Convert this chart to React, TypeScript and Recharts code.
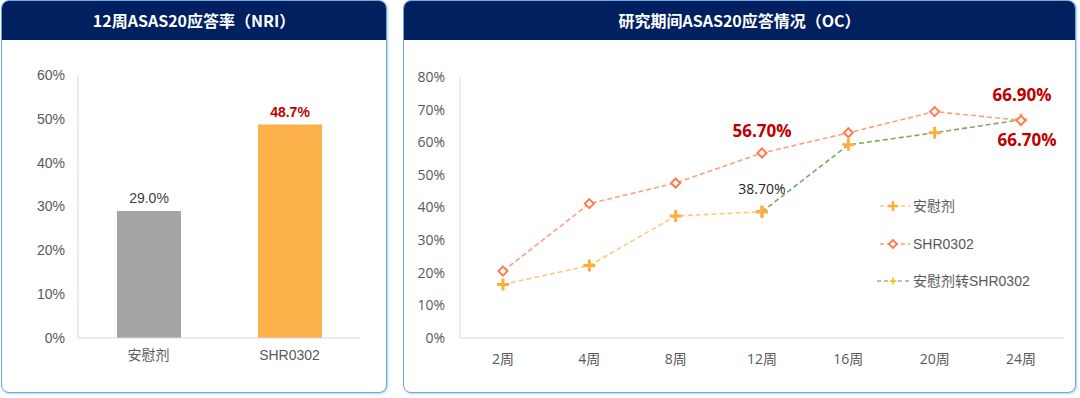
import React from 'react';
import { BarChart, Bar, XAxis, YAxis, Cell, LabelList, LineChart, Line, Legend } from 'recharts';

const barCategories = ['安慰剂', 'SHR0302'];
const barValues = [29.0, 48.7];
const barTicks = [0, 10, 20, 30, 40, 50, 60];

const weeks = ['2周', '4周', '8周', '12周', '16周', '20周', '24周'];
const placeboValues: (number | null)[] = [16.4, 22.2, 37.4, 38.7, null, null, null];
const shrValues: (number | null)[] = [20.5, 41.2, 47.5, 56.7, 62.9, 69.4, 66.7];
const switchValues: (number | null)[] = [null, null, null, 38.7, 59.2, 62.9, 66.9];
const lineTicks = [0, 10, 20, 30, 40, 50, 60, 70, 80];
const seriesNames = ['安慰剂', 'SHR0302', '安慰剂转SHR0302'];
const leftTitle = '12周ASAS20应答率（NRI）';
const rightTitle = '研究期间ASAS20应答情况（OC）';

const barData = barCategories.map((c, i) => ({ name: c, value: barValues[i] }));
const lineData = weeks.map((w, i) => ({
  week: w,
  placebo: placeboValues[i],
  shr: shrValues[i],
  sw: switchValues[i],
}));

const barColors = ['#A5A5A5', '#FDB14B'];
const barLabelStyles = [
  { fill: '#404040', fontWeight: 400, fontSize: 14 },
  { fill: '#C00000', fontWeight: 700, fontSize: 14 },
];

const LATIN = '"Liberation Sans", Arial, "Noto Sans CJK SC", sans-serif';
const OPEN = '"Open Sans", "Noto Sans CJK SC", sans-serif';
const CJK = '"Noto Sans CJK SC", sans-serif';

const PLUS = '#FFAD3B';
const DIAMOND = '#FF7A4D';

const plusDot = (name: string) => (props: any) => {
  const { cx, cy, index } = props;
  if (cx == null || cy == null || props.value == null) return <g key={`${name}-${index}`} />;
  return (
    <path
      key={`${name}-${index}`}
      d={`M${cx - 6},${cy}H${cx + 6}M${cx},${cy - 6}V${cy + 6}`}
      stroke={PLUS}
      strokeWidth={3}
      fill="none"
    />
  );
};

const diamondDot = (props: any) => {
  const { cx, cy, index } = props;
  if (cx == null || cy == null) return <g key={`d-${index}`} />;
  const r = 4.5;
  return (
    <path
      key={`d-${index}`}
      d={`M${cx},${cy - r}L${cx + r},${cy}L${cx},${cy + r}L${cx - r},${cy}Z`}
      stroke={DIAMOND}
      strokeWidth={2}
      fill="#fff"
    />
  );
};

type LabelSpec = { dx: number; dy: number; fill: string; bold: boolean; size: number };

const lineLabel = (specs: Record<number, LabelSpec>) => (props: any) => {
  const { x, y, value, index } = props;
  const s = specs[index];
  if (!s || value == null) return null;
  return (
    <text
      x={x + s.dx}
      y={y + s.dy}
      textAnchor="middle"
      fill={s.fill}
      fontWeight={s.bold ? 700 : 400}
      fontSize={s.size}
      fontFamily={OPEN}
    >
      {`${Number(value).toFixed(2)}%`}
    </text>
  );
};

const placeboLabels: Record<number, LabelSpec> = {
  3: { dx: 0, dy: -18, fill: '#262626', bold: false, size: 14 },
};
const shrLabels: Record<number, LabelSpec> = {
  3: { dx: 0, dy: -16, fill: '#C00000', bold: true, size: 17 },
  6: { dx: 6, dy: 26, fill: '#C00000', bold: true, size: 17 },
};
const switchLabels: Record<number, LabelSpec> = {
  6: { dx: 1, dy: -19, fill: '#C00000', bold: true, size: 17 },
};

const barLabel = (props: any) => {
  const { x, y, width, value, index } = props;
  const st = barLabelStyles[index];
  return (
    <text
      x={x + width / 2}
      y={y - 8}
      textAnchor="middle"
      fill={st.fill}
      fontWeight={st.fontWeight}
      fontSize={st.fontSize}
      fontFamily={LATIN}
    >
      {`${Number(value).toFixed(1)}%`}
    </text>
  );
};

const legendContent = () => {
  const rowH = 37.5;
  const textStyle: React.CSSProperties = {
    position: 'absolute',
    left: 36,
    fontFamily: LATIN,
    fontSize: 14,
    color: '#595959',
    lineHeight: '20px',
    whiteSpace: 'nowrap',
  };
  return (
    <div style={{ position: 'relative', width: 170, height: 100 }}>
      <svg style={{ position: 'absolute', left: 0, top: 0 }} width={36} height={20}>
        <line x1={3} y1={10} x2={33} y2={10} stroke="#FFC77A" strokeWidth={1.5} strokeDasharray="4 3" />
        <path d="M11,10H21M16,5V15" stroke={PLUS} strokeWidth={2.5} />
      </svg>
      <div style={{ ...textStyle, top: 0 }}>{seriesNames[0]}</div>
      <svg style={{ position: 'absolute', left: 0, top: rowH }} width={36} height={20}>
        <line x1={3} y1={10} x2={33} y2={10} stroke="#FF9E7F" strokeWidth={1.5} strokeDasharray="4 3" />
        <path d="M16,6L20,10L16,14L12,10Z" stroke={DIAMOND} strokeWidth={1.8} fill="#fff" />
      </svg>
      <div style={{ ...textStyle, top: rowH }}>{seriesNames[1]}</div>
      <svg style={{ position: 'absolute', left: 0, top: rowH * 2 }} width={36} height={20}>
        <line x1={0} y1={10} x2={33} y2={10} stroke="#A6A6A6" strokeWidth={1.3} strokeDasharray="4 3" />
        <path d="M12.5,10H19.5M16,6.5V13.5" stroke="#FFC000" strokeWidth={1.6} />
      </svg>
      <div style={{ ...textStyle, top: rowH * 2 }}>{seriesNames[2]}</div>
    </div>
  );
};

const cardStyle = (left: number, width: number): React.CSSProperties => ({
  position: 'absolute',
  left,
  top: 0,
  width,
  height: 393,
  boxSizing: 'border-box',
  border: '1.5px solid #6FA8DC',
  borderRadius: 8,
  boxShadow: '1px 1px 2px rgba(91,155,213,0.45)',
  overflow: 'hidden',
  background: '#fff',
});

const headerStyle: React.CSSProperties = {
  height: 39,
  background: '#002060',
  color: '#fff',
  fontFamily: CJK,
  fontWeight: 700,
  fontSize: 16,
  lineHeight: '39px',
  textAlign: 'center',
};

export default function App() {
  return (
    <div style={{ position: 'absolute', left: 0, top: 0, width: 1080, height: 398, background: '#fff', overflow: 'hidden' }}>
      <div style={cardStyle(1, 386)}>
        <div style={headerStyle}>{leftTitle}</div>
      </div>
      <div style={cardStyle(403, 673)}>
        <div style={headerStyle}>{rightTitle}</div>
      </div>

      <div style={{ position: 'absolute', left: 0, top: 40 }}>
        <BarChart width={386} height={350} data={barData} margin={{ top: 35, right: 26, bottom: 22, left: 0 }}>
          <XAxis
            dataKey="name"
            axisLine={{ stroke: '#D9D9D9' }}
            tickLine={false}
            tickMargin={6}
            tick={{ fill: '#595959', fontSize: 14, fontFamily: LATIN }}
          />
          <YAxis
            width={78}
            domain={[0, 60]}
            ticks={barTicks}
            interval={0}
            axisLine={{ stroke: '#D9D9D9' }}
            tickLine={false}
            tickMargin={7}
            tickFormatter={(v: number) => `${v}%`}
            tick={{ fill: '#595959', fontSize: 14, fontFamily: LATIN }}
          />
          <Bar dataKey="value" barSize={64} isAnimationActive={false}>
            {barData.map((d, i) => (
              <Cell key={d.name} fill={barColors[i]} />
            ))}
            <LabelList dataKey="value" content={barLabel} />
          </Bar>
        </BarChart>
      </div>

      <div style={{ position: 'absolute', left: 403, top: 40 }}>
        <LineChart width={673} height={350} data={lineData} margin={{ top: 37, right: 12, bottom: 22, left: 0 }}>
          <XAxis
            dataKey="week"
            padding={{ left: 43, right: 43 }}
            axisLine={{ stroke: '#D9D9D9' }}
            tickLine={false}
            tickMargin={10}
            interval={0}
            tick={{ fill: '#595959', fontSize: 14, fontFamily: OPEN }}
          />
          <YAxis
            width={57}
            domain={[0, 80]}
            ticks={lineTicks}
            interval={0}
            axisLine={{ stroke: '#D9D9D9' }}
            tickLine={false}
            tickMargin={9}
            tickFormatter={(v: number) => `${v}%`}
            tick={{ fill: '#595959', fontSize: 14, fontFamily: OPEN }}
          />
          <Legend
            layout="horizontal"
            verticalAlign="middle"
            align="center"
            content={legendContent}
            wrapperStyle={{ left: 474, top: 156, width: 170, height: 100 }}
          />
          <Line
            dataKey="placebo"
            name={seriesNames[0]}
            stroke="#FFC77A"
            strokeWidth={1.6}
            strokeDasharray="5 3"
            dot={plusDot('pl')}
            activeDot={false}
            isAnimationActive={false}
          >
            <LabelList dataKey="placebo" content={lineLabel(placeboLabels)} />
          </Line>
          <Line
            dataKey="sw"
            name={seriesNames[2]}
            stroke="#7FA860"
            strokeWidth={1.6}
            strokeDasharray="5 3"
            dot={plusDot('sw')}
            activeDot={false}
            isAnimationActive={false}
          >
            <LabelList dataKey="sw" content={lineLabel(switchLabels)} />
          </Line>
          <Line
            dataKey="shr"
            name={seriesNames[1]}
            stroke="#FF9E7F"
            strokeWidth={1.6}
            strokeDasharray="5 3"
            dot={diamondDot}
            activeDot={false}
            isAnimationActive={false}
          >
            <LabelList dataKey="shr" content={lineLabel(shrLabels)} />
          </Line>
        </LineChart>
      </div>
    </div>
  );
}
